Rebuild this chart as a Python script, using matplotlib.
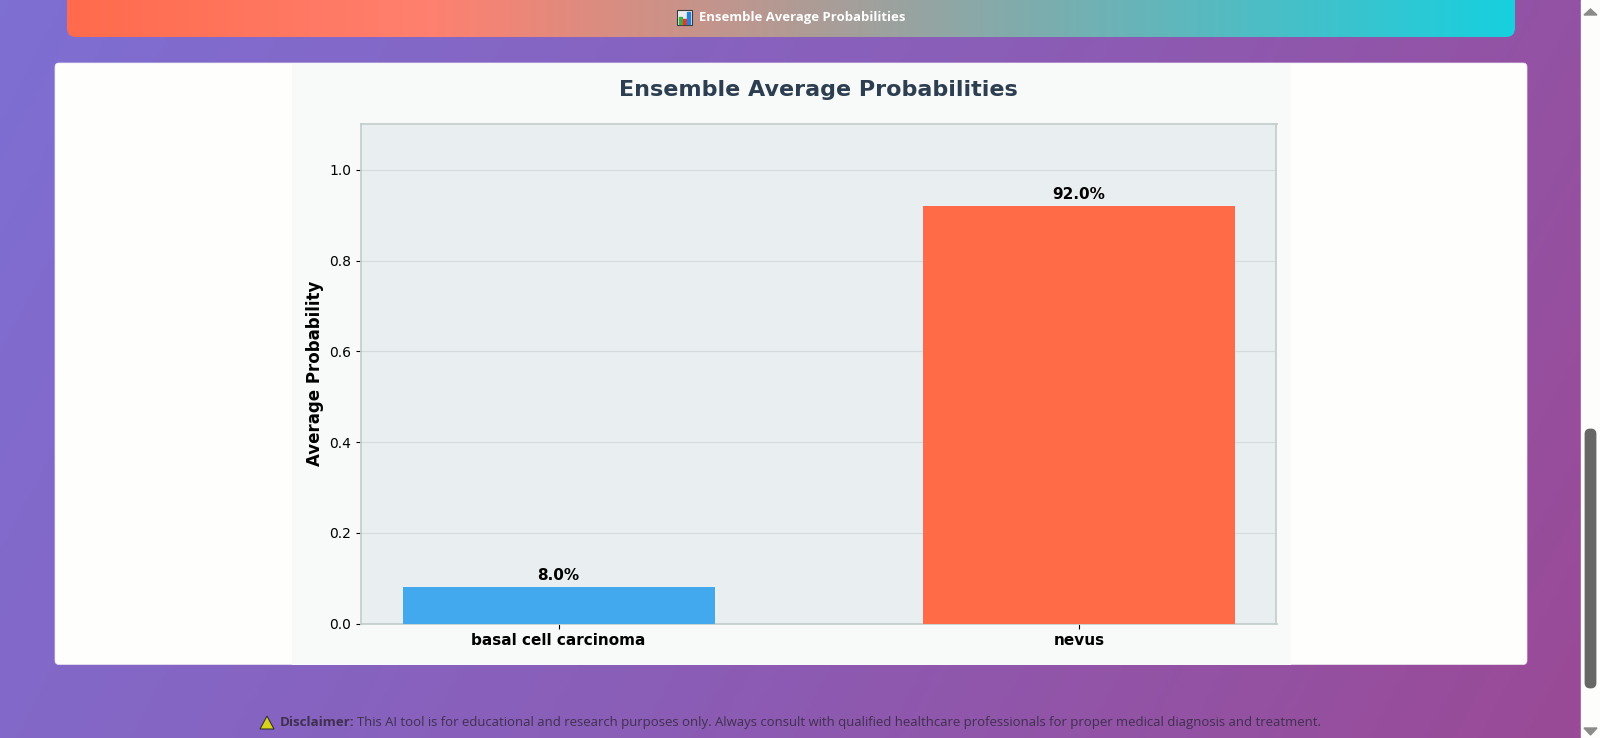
import numpy as np
import matplotlib
matplotlib.use("Agg")
import matplotlib.pyplot as plt
from matplotlib.colors import LinearSegmentedColormap
from matplotlib.patches import FancyBboxPatch, Rectangle, Polygon

classes = ["basal cell carcinoma", "nevus"]
probs = [0.08, 0.92]
bar_colors = ["#42a9ee", "#ff6b47"]
yticks = [0.0, 0.2, 0.4, 0.6, 0.8, 1.0]

W, H = 1600, 738
fig = plt.figure(figsize=(W / 100, H / 100), dpi=100)


def box(l, t, r, b):
    return [l / W, 1 - b / H, (r - l) / W, (b - t) / H]


# page layer, in pixel coords
page = fig.add_axes([0, 0, 1, 1])
page.set_xlim(0, W)
page.set_ylim(H, 0)
page.axis("off")

xx, yy = np.meshgrid(np.linspace(0, 1, 400), np.linspace(0, 1, 200))
bg_cmap = LinearSegmentedColormap.from_list("bg", ["#7e6fd3", "#8a5eb8", "#9a4a96"])
page.imshow(xx * 0.8 + yy * 0.2, cmap=bg_cmap, extent=[0, 1581, H, 0], aspect="auto", vmin=0, vmax=1)

# scrollbar
page.add_patch(Rectangle((1581, 0), 19, H, color="#fdfdfb"))
page.add_patch(FancyBboxPatch((1586, 430), 9, 257, boxstyle="round,pad=0,rounding_size=4",
                              mutation_aspect=1, fc="#676765", ec="#676765", lw=2))
page.add_patch(Polygon([[1584, 15], [1597, 15], [1590.5, 9]], color="#8b8b89"))
page.add_patch(Polygon([[1584, 728], [1597, 728], [1590.5, 735]], color="#8b8b89"))

# header banner
banner_cmap = LinearSegmentedColormap.from_list(
    "banner", [(0, "#ff6b4c"), (0.25, "#ff806f"), (1, "#17d0df")])
grad = np.linspace(0, 1, 500).reshape(1, -1)
im = page.imshow(grad, cmap=banner_cmap, extent=[67, 1515, 37, 0], aspect="auto")
banner = FancyBboxPatch((67, -12), 1448, 49, boxstyle="round,pad=0,rounding_size=9",
                        fc="none", ec="none")
page.add_patch(banner)
im.set_clip_path(banner)
page.set_xlim(0, W)
page.set_ylim(H, 0)

# little chart icon next to the banner text
page.add_patch(Rectangle((677, 10), 15, 15, fc="#e9edf0", ec="#3a3a3a", lw=0.8))
page.add_patch(Rectangle((679, 17), 3, 7, color="#3fae49"))
page.add_patch(Rectangle((683, 19), 3, 5, color="#e0392b"))
page.add_patch(Rectangle((687, 12), 3, 12, color="#2a7fd6"))
page.text(802, 17.5, "Ensemble Average Probabilities", color="white", fontsize=9.45,
          fontweight="bold", family="Open Sans", ha="center", va="center")

# white card and chart image background
page.add_patch(FancyBboxPatch((55, 63), 1472, 601.5, boxstyle="round,pad=0,rounding_size=4",
                              fc="#fefefc", ec="#efeaf1", lw=0.5))
page.add_patch(Rectangle((292, 64), 999, 600.5, color="#f8fafa", lw=0))

page.text(818, 89.5, "Ensemble Average Probabilities", color="#2c3e50", fontsize=16,
          fontweight="bold", ha="center", va="center")

# disclaimer
page.add_patch(Polygon([[260, 729], [274, 729], [267, 716]], fc="#d9d21c", ec="#333333", lw=0.8))
page.text(280, 722.5, "Disclaimer:", color="#40304f", fontsize=9.6, fontweight="bold",
          family="Open Sans", va="center")
page.text(357, 722.5, "This AI tool is for educational and research purposes only. Always consult with "
          "qualified healthcare professionals for proper medical diagnosis and treatment.",
          color="#40304f", fontsize=9.45, family="Open Sans", va="center")

# actual chart
ax = fig.add_axes(box(361, 123.5, 1276.5, 623.5))
ax.set_facecolor("#e9eff0")
x = np.arange(len(classes))
bars = ax.bar(x, probs, width=0.6, color=bar_colors, zorder=3)
ax.set_xlim(-0.38, 1.38)
ax.set_ylim(0, 1.102)
ax.set_yticks(yticks)
ax.set_xticks(x)
ax.set_xticklabels(classes, fontsize=11, fontweight="bold")
ax.tick_params(axis="y", labelsize=10)
ax.grid(axis="y", color="#d3dbdb", lw=0.8, zorder=1)
ax.set_axisbelow(True)
ax.set_ylabel("Average Probability", fontsize=12, fontweight="bold")
for s in ax.spines.values():
    s.set_color("#c4cfcc")
    s.set_linewidth(1.3)
for b, p in zip(bars, probs):
    ax.annotate(f"{p * 100:.1f}%", (b.get_x() + b.get_width() / 2, p), xytext=(0, 3),
                textcoords="offset points", ha="center", va="bottom",
                fontsize=11, fontweight="bold")

fig.savefig("out.png", dpi=100)
